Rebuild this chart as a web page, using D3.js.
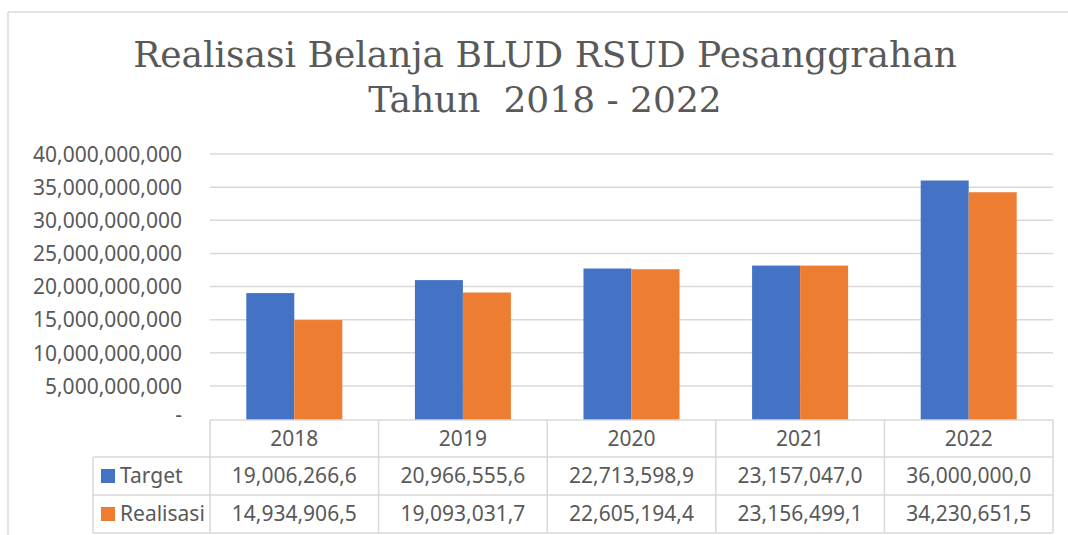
<!DOCTYPE html>
<html>
<head>
<meta charset="utf-8">
<script src="https://cdn.jsdelivr.net/npm/d3@7"></script>
<style>
  html, body { margin: 0; padding: 0; background: #fff; }
  svg { display: block; }
</style>
</head>
<body>
<svg id="chart" width="1068" height="535"></svg>
<script>
// ---- data ----
const years = ["2018", "2019", "2020", "2021", "2022"];
const seriesNames = ["Target", "Realisasi"];
// values as written in the table (thousands of rupiah)
const target = [19006266.6, 20966555.6, 22713598.9, 23157047.0, 36000000.0];
const realisasi = [14934906.5, 19093031.7, 22605194.4, 23156499.1, 34230651.5];
const yTicks = [0, 5e9, 10e9, 15e9, 20e9, 25e9, 30e9, 35e9, 40e9];
const titleLines = ["Realisasi Belanja BLUD RSUD Pesanggrahan", "Tahun\u00a0\u00a02018 - 2022"];
const colors = ["#4472C4", "#ED7D31"];

const seriesValues = [target, realisasi];
const UNIT = 1000;

const svg = d3.select("#chart");
const textColor = "#595959";
const gridColor = "#d9d9d9";
const sansFont = "'Noto Sans', 'Open Sans', sans-serif";

// outer frame
svg.append("line").attr("x1", 8).attr("x2", 1068).attr("y1", 12).attr("y2", 12)
  .attr("stroke", gridColor).attr("stroke-width", 1.5);
svg.append("line").attr("x1", 8).attr("x2", 8).attr("y1", 12).attr("y2", 535)
  .attr("stroke", gridColor).attr("stroke-width", 1.5);

// title
const titleY = [67, 112];
const titleTargetWidth = 824;
const tg = svg.append("g");
const t0 = tg.append("text").text(titleLines[0])
  .attr("font-family", "'DejaVu Serif', serif").attr("font-size", 33);
const w0 = t0.node().getComputedTextLength();
const tfs = 33 * titleTargetWidth / w0;
t0.remove();
titleLines.forEach((line, i) => {
  tg.append("text")
    .attr("x", 545).attr("y", titleY[i])
    .attr("text-anchor", "middle")
    .attr("font-family", "'DejaVu Serif', serif")
    .attr("font-size", tfs)
    .attr("font-weight", 300)
    .attr("fill", textColor)
    .text(line);
});

// scales
const plotLeft = 210, plotRight = 1053, plotTop = 154, plotBase = 419;
const y = d3.scaleLinear().domain([0, 40e9]).range([plotBase, plotTop]);
const xCol = d3.scaleBand().domain(years).range([plotLeft, plotRight]).padding(0);
const xBar = d3.scaleBand().domain(seriesNames).range([0, xCol.bandwidth()])
  .paddingInner(0).paddingOuter(0.756);

// gridlines
svg.append("g").selectAll("line").data(yTicks.filter(d => d > 0)).join("line")
  .attr("x1", plotLeft).attr("x2", plotRight)
  .attr("y1", d => y(d)).attr("y2", d => y(d))
  .attr("stroke", gridColor).attr("stroke-width", 1.5);

// y axis via d3.axisLeft
const yAxis = d3.axisLeft(y).tickValues(yTicks)
  .tickFormat(d => d === 0 ? "-" : d3.format(",")(d))
  .tickSize(0).tickPadding(0);
const ag = svg.append("g").attr("transform", "translate(182,0)").call(yAxis);
ag.select(".domain").remove();
ag.selectAll("text")
  .attr("font-family", sansFont).attr("font-size", 21)
  .attr("fill", textColor).attr("dy", "0.35em")
  .attr("x", 0);
ag.selectAll(".tick").filter(d => d === 0).select("text").attr("dy", "0.1em");

// bars
seriesNames.forEach((s, si) => {
  svg.append("g").selectAll("rect").data(years).join("rect")
    .attr("x", (d) => xCol(d) + xBar(s))
    .attr("width", xBar.bandwidth())
    .attr("y", (d, i) => y(seriesValues[si][i] * UNIT))
    .attr("height", (d, i) => plotBase - y(seriesValues[si][i] * UNIT) + 1)
    .attr("fill", colors[si]);
});

// data table
const rowTops = [420, 457, 495, 533];
const tableLeft = 93;
const tbl = svg.append("g").attr("stroke", gridColor).attr("stroke-width", 1.5);
tbl.append("line").attr("x1", plotLeft).attr("x2", plotRight).attr("y1", rowTops[0]).attr("y2", rowTops[0]);
[1, 2, 3].forEach(r => {
  tbl.append("line").attr("x1", tableLeft).attr("x2", plotRight).attr("y1", rowTops[r]).attr("y2", rowTops[r]);
});
tbl.append("line").attr("x1", tableLeft).attr("x2", tableLeft).attr("y1", rowTops[1]).attr("y2", rowTops[3]);
const colEdges = years.map(d => xCol(d)).concat([plotRight]);
colEdges.forEach(x => {
  tbl.append("line").attr("x1", x).attr("x2", x).attr("y1", rowTops[0]).attr("y2", rowTops[3]);
});

const rowMid = r => (rowTops[r] + rowTops[r + 1]) / 2;
const fmtVal = v => d3.format(",.1f")(v).replace(/\.(\d)$/, ",$1");

// header
svg.append("g").selectAll("text").data(years).join("text")
  .attr("x", d => xCol(d) + xCol.bandwidth() / 2)
  .attr("y", rowMid(0)).attr("dy", "0.35em")
  .attr("text-anchor", "middle")
  .attr("font-family", sansFont).attr("font-size", 21).attr("fill", textColor)
  .text(d => d);

seriesNames.forEach((s, si) => {
  const cy = rowMid(si + 1);
  svg.append("rect").attr("x", 101).attr("y", cy - 7).attr("width", 14).attr("height", 14)
    .attr("fill", colors[si]);
  svg.append("text").attr("x", 120).attr("y", cy).attr("dy", "0.35em")
    .attr("font-family", sansFont).attr("font-size", 21).attr("fill", textColor)
    .text(s);
  svg.append("g").selectAll("text").data(years).join("text")
    .attr("x", d => xCol(d) + xCol.bandwidth() / 2)
    .attr("y", cy).attr("dy", "0.35em")
    .attr("text-anchor", "middle")
    .attr("font-family", sansFont).attr("font-size", 21).attr("fill", textColor)
    .text((d, i) => fmtVal(seriesValues[si][i]));
});
</script>
</body>
</html>
